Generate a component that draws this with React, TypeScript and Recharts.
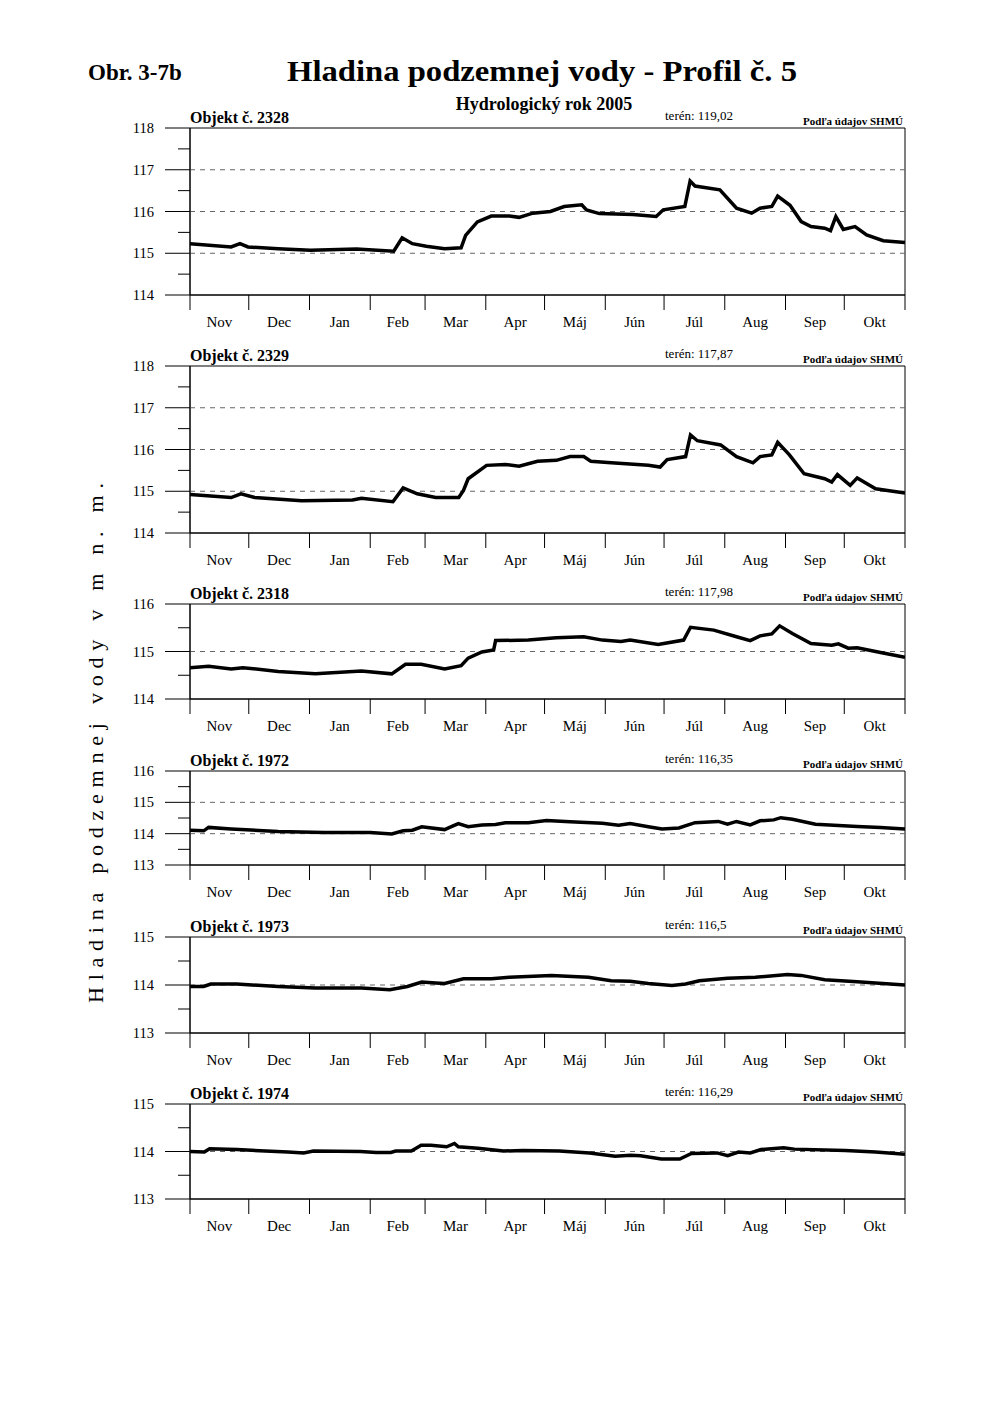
import React from "react";
import { LineChart, Line, XAxis, YAxis, ReferenceLine, ReferenceArea } from "recharts";

const FONT = '"Liberation Serif", "Times New Roman", serif';

// hydrological year 2005: day index from 1 Nov 2004
const monthEdges = [0, 30, 61, 92, 120, 151, 181, 212, 242, 273, 304, 334, 365];
const monthMids = [15, 45.5, 76.5, 106, 135.5, 166, 196.5, 227, 257.5, 288.5, 319, 349.5];
const monthNames = ["Nov", "Dec", "Jan", "Feb", "Mar", "Apr", "Máj", "Jún", "Júl", "Aug", "Sep", "Okt"];

const days2328 = [0, 21, 25.5, 29.6, 45, 61.5, 85, 104, 108.3, 113.5, 120.6, 130, 138.4, 140.7, 146.7, 153.8, 163, 168, 175, 184, 191, 200, 202.4, 209, 226, 238, 241.6, 252.6, 255.3, 257.8, 270.5, 279, 286.7, 291, 297, 300, 306.3, 312, 317, 324, 327, 329.7, 333.5, 339.5, 345.4, 353.9, 365];
const level2328 = [115.23, 115.15, 115.23, 115.15, 115.11, 115.07, 115.1, 115.05, 115.37, 115.23, 115.17, 115.11, 115.13, 115.43, 115.75, 115.89, 115.89, 115.86, 115.96, 116.0, 116.12, 116.16, 116.04, 115.95, 115.93, 115.88, 116.04, 116.12, 116.73, 116.61, 116.52, 116.08, 115.96, 116.08, 116.12, 116.37, 116.15, 115.76, 115.64, 115.6, 115.54, 115.88, 115.57, 115.64, 115.44, 115.3, 115.26];

const days2329 = [0, 21, 26, 33, 57, 83, 87.5, 103.6, 108.8, 116, 125.4, 137.2, 139.6, 142, 151.4, 161, 168, 177.4, 187, 194, 201, 204.6, 215, 234, 240, 243.6, 253, 255.5, 259, 270.9, 279, 287.4, 291, 297, 300, 306, 313.5, 324, 327.6, 330.5, 337, 340.6, 350, 365];
const level2329 = [114.92, 114.85, 114.94, 114.85, 114.77, 114.79, 114.83, 114.75, 115.08, 114.94, 114.85, 114.85, 115.02, 115.3, 115.62, 115.64, 115.6, 115.72, 115.74, 115.83, 115.83, 115.72, 115.68, 115.62, 115.58, 115.76, 115.83, 116.35, 116.21, 116.11, 115.83, 115.68, 115.83, 115.87, 116.17, 115.87, 115.42, 115.3, 115.22, 115.4, 115.14, 115.32, 115.06, 114.96];

const days2318 = [0, 9.5, 21, 27, 45, 64, 87.5, 103, 110, 118, 130, 138.4, 142, 149, 155, 156, 172.7, 187, 201, 210.5, 220, 224.7, 239, 252, 255.5, 267.4, 279, 286, 291, 297, 301, 307.5, 317, 327.6, 331, 336, 340.6, 352.5, 365];
const level2318 = [114.66, 114.69, 114.63, 114.66, 114.58, 114.53, 114.59, 114.53, 114.73, 114.73, 114.63, 114.7, 114.86, 114.99, 115.03, 115.23, 115.24, 115.29, 115.31, 115.24, 115.21, 115.24, 115.15, 115.24, 115.51, 115.45, 115.31, 115.23, 115.33, 115.37, 115.54, 115.38, 115.17, 115.13, 115.16, 115.07, 115.08, 114.98, 114.88];

const days1972 = [0, 7, 9.5, 21, 45, 68.6, 92, 103, 108.8, 113.5, 118.3, 130, 133.7, 137, 142, 149, 156, 161, 172.7, 182, 194, 210.5, 218.8, 224.7, 234, 241, 249.6, 257.8, 269.7, 274.4, 279, 286, 291, 298, 301.6, 307.5, 319.3, 340.6, 352.5, 365];
const level1972 = [114.11, 114.09, 114.2, 114.15, 114.07, 114.04, 114.04, 113.99, 114.09, 114.11, 114.22, 114.13, 114.23, 114.32, 114.22, 114.28, 114.29, 114.35, 114.35, 114.42, 114.38, 114.33, 114.27, 114.32, 114.22, 114.15, 114.18, 114.35, 114.39, 114.3, 114.39, 114.28, 114.41, 114.44, 114.51, 114.46, 114.3, 114.23, 114.2, 114.15];

const days1973 = [0, 7, 10.6, 23.7, 45, 64, 87.5, 102, 111, 118.3, 125.4, 130, 139.6, 153.8, 163, 184.5, 203.4, 215, 224.7, 234, 246, 253, 260, 274.4, 288.6, 305, 312, 324, 340.6, 365];
const level1973 = [113.97, 113.97, 114.02, 114.02, 113.97, 113.94, 113.94, 113.9, 113.97, 114.06, 114.04, 114.03, 114.13, 114.13, 114.16, 114.2, 114.16, 114.09, 114.08, 114.03, 113.99, 114.02, 114.09, 114.14, 114.16, 114.22, 114.2, 114.11, 114.07, 114.0];

const days1974 = [0, 7.3, 10, 24, 50, 58, 63, 87, 95, 102.5, 105, 113, 118, 123, 131, 135, 137, 147, 160, 170, 188.5, 204, 217, 225, 230, 240.6, 250, 256, 269, 274.5, 280, 286, 291.5, 303, 308.5, 334.5, 350, 365];
const level1974 = [114.0, 113.99, 114.06, 114.04, 113.99, 113.97, 114.01, 114.0, 113.98, 113.98, 114.01, 114.01, 114.13, 114.13, 114.1, 114.17, 114.1, 114.07, 114.01, 114.02, 114.01, 113.97, 113.9, 113.92, 113.91, 113.84, 113.84, 113.96, 113.97, 113.91, 113.99, 113.97, 114.04, 114.08, 114.05, 114.02, 113.99, 113.94];

type PanelDef = {
  id: string;
  teren: string;
  top: number; // y of plot top on the page
  plotH: number;
  domain: [number, number];
  grid: number[];
  days: number[];
  levels: number[];
};

const panels: PanelDef[] = [
  { id: "2328", teren: "119,02", top: 128, plotH: 167, domain: [114, 118], grid: [115, 116, 117], days: days2328, levels: level2328 },
  { id: "2329", teren: "117,87", top: 366, plotH: 167, domain: [114, 118], grid: [115, 116, 117], days: days2329, levels: level2329 },
  { id: "2318", teren: "117,98", top: 604, plotH: 95, domain: [114, 116], grid: [115], days: days2318, levels: level2318 },
  { id: "1972", teren: "116,35", top: 771, plotH: 94, domain: [113, 116], grid: [114, 115], days: days1972, levels: level1972 },
  { id: "1973", teren: "116,5", top: 937, plotH: 96, domain: [113, 115], grid: [114], days: days1973, levels: level1973 },
  { id: "1974", teren: "116,29", top: 1104, plotH: 95, domain: [113, 115], grid: [114], days: days1974, levels: level1974 },
];

const PAD = 10;
const TICK_SIZE = 25;
const TICK_MARGIN = 11;

const YTick = (props: any) => {
  const { x, y, payload } = props;
  const axisX = x + TICK_SIZE + TICK_MARGIN;
  const major = Number.isInteger(payload.value);
  return (
    <g>
      <line x1={axisX - (major ? 25 : 12)} x2={axisX} y1={y} y2={y} stroke="#000" strokeWidth={1} />
      {major && (
        <text x={x} y={y} textAnchor="end" dominantBaseline="central" fontSize={14.5} fontFamily={FONT} fill="#000">
          {payload.value}
        </text>
      )}
    </g>
  );
};

// month boundary ticks: only the mark, no label
const EdgeTick = (props: any) => {
  const { x, y } = props;
  return <line x1={x} x2={x} y1={y - 17} y2={y - 2} stroke="#000" strokeWidth={1} />;
};

function Panel({ p }: { p: PanelDef }) {
  const data = p.days.map((d, i) => ({ d, v: p.levels[i] }));
  const yTicks: number[] = [];
  for (let t = p.domain[0]; t <= p.domain[1]; t += 0.5) yTicks.push(t);
  const height = PAD + p.plotH + 15 + 30;

  return (
    <div style={{ position: "absolute", left: 0, top: p.top - PAD }}>
      <LineChart width={1000} height={height} data={data} margin={{ top: PAD, right: 95, bottom: 0, left: 0 }}>
        <XAxis
          xAxisId="a"
          dataKey="d"
          type="number"
          domain={[0, 365]}
          allowDataOverflow
          ticks={monthEdges}
          interval={0}
          tick={(tp: any) => <EdgeTick {...tp} />}
          tickSize={15}
          tickMargin={2}
          height={15}
          axisLine={{ stroke: "#000" }}
          tickLine={false}
        />
        <XAxis
          xAxisId="b"
          dataKey="d"
          type="number"
          domain={[0, 365]}
          allowDataOverflow
          ticks={monthMids}
          interval={0}
          tickLine={false}
          axisLine={false}
          tickSize={0}
          tickMargin={6}
          height={30}
          tickFormatter={(v: number) => monthNames[monthMids.indexOf(v)]}
          tick={{ fill: "#000", fontSize: 15, fontFamily: FONT }}
        />
        <YAxis
          type="number"
          domain={p.domain}
          allowDataOverflow
          ticks={yTicks}
          interval={0}
          width={190}
          tickLine={false}
          tickSize={TICK_SIZE}
          tickMargin={TICK_MARGIN}
          axisLine={{ stroke: "#000" }}
          tick={(tp: any) => <YTick {...tp} />}
        />
        <ReferenceArea xAxisId="a" x1={0} x2={365} y1={p.domain[0]} y2={p.domain[1]} fill="none" stroke="#000" strokeWidth={1} />
        {p.grid.map((g) => (
          <ReferenceLine key={g} xAxisId="a" y={g} stroke="#666" strokeDasharray="5 5" />
        ))}
        <Line xAxisId="a" dataKey="v" type="linear" stroke="#000" strokeWidth={3.5} dot={false} isAnimationActive={false} />
      </LineChart>
    </div>
  );
}

export default function App() {
  return (
    <div style={{ position: "absolute", left: 0, top: 0, width: 1000, height: 1414, background: "#fff", fontFamily: FONT }}>
      {panels.map((p) => (
        <Panel key={p.id} p={p} />
      ))}
      <svg width={1000} height={1414} style={{ position: "absolute", left: 0, top: 0, pointerEvents: "none" }} fontFamily={FONT}>
        <text x={88} y={80} fontSize={23} fontWeight="bold">Obr. 3-7b</text>
        <text x={287} y={81} fontSize={29} fontWeight="bold" textLength={510} lengthAdjust="spacingAndGlyphs">
          Hladina podzemnej vody  - Profil č. 5
        </text>
        <text x={544} y={110} fontSize={18} fontWeight="bold" textAnchor="middle">Hydrologický rok 2005</text>
        {panels.map((p) => (
          <g key={p.id}>
            <text x={190} y={p.top - 5} fontSize={16} fontWeight="bold">Objekt č. {p.id}</text>
            <text x={665} y={p.top - 8} fontSize={13}>terén: {p.teren}</text>
            <text x={903} y={p.top - 3} fontSize={11} fontWeight="bold" textAnchor="end">Podľa údajov SHMÚ</text>
          </g>
        ))}
        <text x={-743} y={103} transform="rotate(-90)" fontSize={22} textAnchor="middle" textLength={520} lengthAdjust="spacing">
          Hladina podzemnej vody v m n. m.
        </text>
      </svg>
    </div>
  );
}
